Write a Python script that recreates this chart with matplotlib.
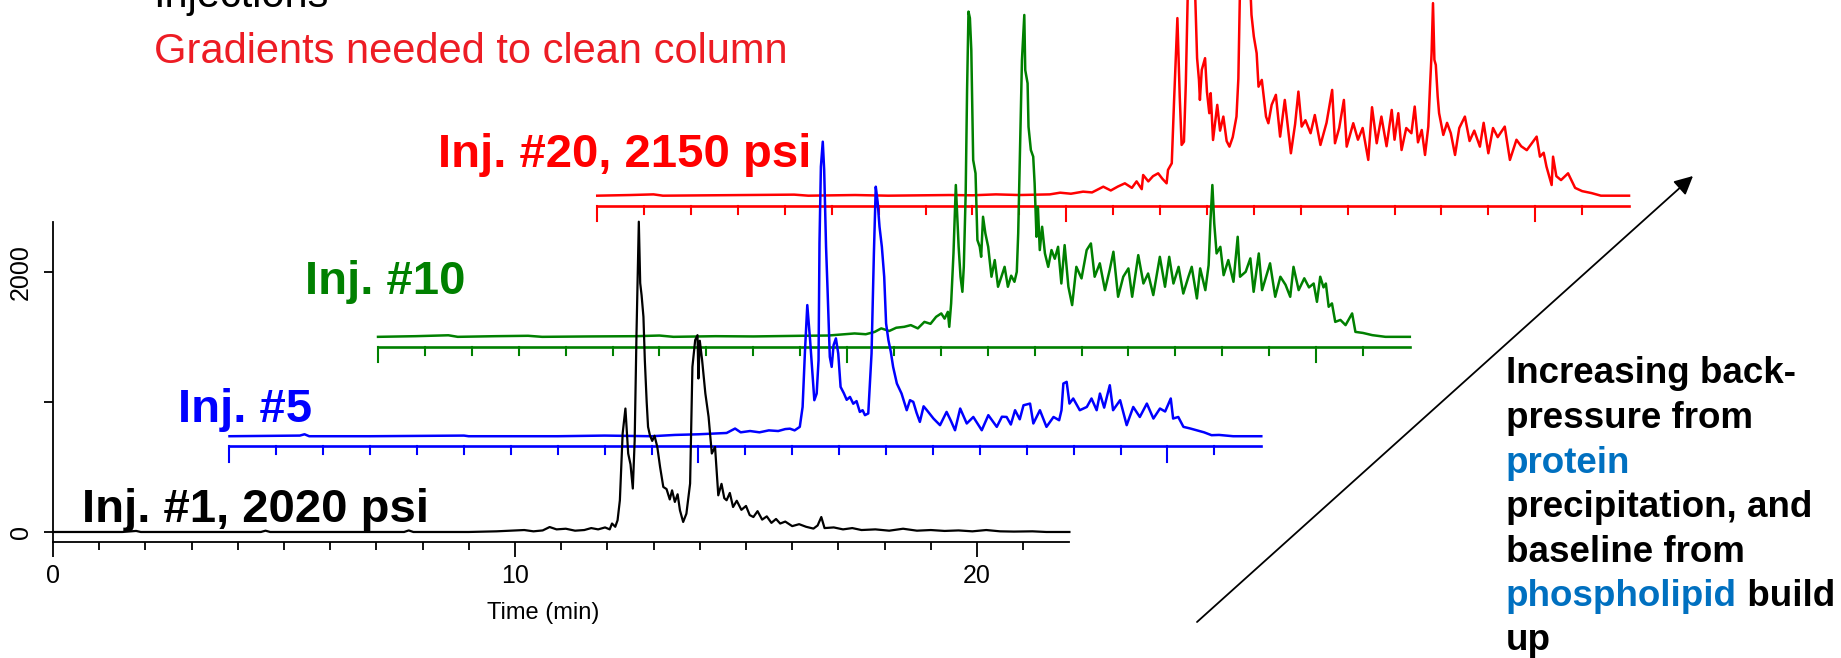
import matplotlib
matplotlib.use("Agg")
import matplotlib.pyplot as plt
import numpy as np

plt.rcParams['font.family'] = ['Liberation Sans', 'DejaVu Sans']

# ---- data (time in min, signal in counts) ----
black_t = [0, 1.5, 1.8, 1.9, 3.0, 4.5, 4.6, 4.7, 6.0, 7.6, 7.7, 7.8, 9.0, 9.6, 10.2, 10.4, 10.6, 10.75,
           10.9, 11.1, 11.3, 11.5, 11.65, 11.8, 11.95, 12.05, 12.1, 12.17, 12.22, 12.27, 12.33, 12.39,
           12.45, 12.50, 12.55, 12.59, 12.63, 12.68, 12.71, 12.74, 12.78, 12.81, 12.85, 12.88, 12.92,
           12.97, 13.02, 13.08, 13.14, 13.21, 13.28, 13.35, 13.40, 13.46, 13.52, 13.57, 13.64, 13.71,
           13.79, 13.84, 13.90, 13.95, 13.97, 14.00, 14.05, 14.12, 14.19, 14.26, 14.33, 14.40, 14.47,
           14.53, 14.58, 14.65, 14.72, 14.80, 14.90, 15.0, 15.08, 15.16, 15.25, 15.35, 15.45, 15.55,
           15.65, 15.74, 15.85, 16.0, 16.15, 16.3, 16.46, 16.55, 16.63, 16.7, 16.9, 17.1, 17.3, 17.5,
           17.8, 18.1, 18.4, 18.7, 19.0, 19.3, 19.6, 19.9, 20.2, 20.5, 20.8, 21.2, 21.5, 22.0]
black_v = [0, 0, 8, 0, 0, 0, 10, 0, 0, 0, 12, 0, 0, 5, 15, 5, 12, 38,
           20, 25, 10, 15, 30, 20, 35, 20, 65, 40, 90, 244, 757, 949,
           603, 520, 334, 700, 1526, 2385, 1913, 1820, 1654, 1321, 1000, 808, 744,
           700, 740, 654, 500, 346, 330, 250, 320, 231, 290, 167, 77, 141,
           372, 1269, 1475, 1513, 1180, 1470, 1321, 1065, 885, 603, 654, 282, 370,
           260, 244, 300, 192, 240, 170, 200, 130, 115, 160, 95, 120, 70,
           100, 65, 80, 45, 60, 40, 26, 50, 115, 30, 35, 20, 30, 15,
           20, 10, 25, 10, 15, 8, 12, 5, 15, 5, 3, 5, 0, 0]

blue_t = [0, 1.5, 1.6, 1.7, 3.0, 5.0, 5.1, 7.0, 8.0, 9.0, 9.5, 10.0, 10.3, 10.6, 10.78, 10.9, 11.1,
          11.3, 11.5, 11.7, 11.85, 11.95, 12.05, 12.16, 12.22, 12.27, 12.32, 12.38, 12.43, 12.47,
          12.52, 12.56, 12.58, 12.61, 12.65, 12.68, 12.72, 12.75, 12.80, 12.84, 12.88, 12.93, 12.98,
          13.03, 13.10, 13.16, 13.23, 13.30, 13.37, 13.44, 13.50, 13.55, 13.62, 13.69, 13.74, 13.78,
          13.82, 13.86, 13.91, 13.96, 14.00, 14.05, 14.10, 14.15, 14.23, 14.33, 14.44, 14.51, 14.58,
          14.65, 14.72, 14.80, 14.87, 15.01, 15.15, 15.29, 15.38, 15.47, 15.58, 15.72, 15.86, 16.04,
          16.18, 16.36, 16.47, 16.57, 16.66, 16.75, 16.85, 16.93, 17.07, 17.14, 17.28, 17.42, 17.57,
          17.69, 17.74, 17.78, 17.85, 17.91, 17.99, 18.13, 18.28, 18.38, 18.49, 18.56, 18.65, 18.77,
          18.84, 18.99, 19.13, 19.27, 19.41, 19.56, 19.70, 19.84, 19.95, 20.07, 20.12, 20.23, 20.34,
          20.48, 20.62, 20.78, 20.94, 21.1, 21.4, 22.0]
blue_v = [0, 5, 15, 0, 0, 5, 0, 0, 5, 0, 10, 15, 20, 25, 59, 30, 40,
          30, 45, 40, 55, 58, 45, 72, 225, 650, 1008, 738, 482, 277,
          328, 585, 1485, 2072, 2264, 2046, 1456, 1148, 610, 533, 700, 752, 636,
          379, 330, 280, 302, 250, 270, 187, 200, 162, 175, 636, 1405, 1918,
          1800, 1610, 1456, 1225, 867, 738, 650, 533, 405, 328, 200, 277, 264,
          180, 110, 230, 200, 136, 85, 187, 120, 46, 213, 98, 148, 46,
          162, 72, 150, 148, 90, 200, 130, 238, 251, 98, 200, 72, 148,
          123, 200, 405, 418, 251, 290, 200, 225, 290, 200, 328, 220, 392,
          200, 277, 85, 225, 148, 251, 136, 213, 190, 290, 136, 148, 72,
          60, 46, 30, 8, 10, 0, 0]

green_t = [0, 0.8, 1.5, 1.7, 2.5, 3.2, 3.5, 4.5, 5.5, 6.0, 6.3, 7.2, 8.0, 9.0, 9.6, 10.16, 10.4,
           10.59, 10.73, 10.9, 11.05, 11.22, 11.36, 11.51, 11.65, 11.78, 11.90, 12.01, 12.08, 12.15,
           12.18, 12.22, 12.27, 12.32, 12.38, 12.42, 12.46, 12.49, 12.53, 12.56, 12.59, 12.62, 12.65,
           12.69, 12.74, 12.78, 12.83, 12.86, 12.90, 12.95, 13.01, 13.08, 13.15, 13.22, 13.29, 13.36,
           13.43, 13.50, 13.57, 13.62, 13.65, 13.68, 13.73, 13.78, 13.80, 13.85, 13.87, 13.92, 13.97,
           14.00, 14.04, 14.07, 14.11, 14.16, 14.22, 14.29, 14.36, 14.43, 14.50, 14.57, 14.64, 14.72,
           14.80, 14.89, 15.0, 15.11, 15.20, 15.28, 15.39, 15.50, 15.60, 15.68, 15.78, 15.89, 16.0,
           16.08, 16.21, 16.32, 16.42, 16.53, 16.67, 16.78, 16.87, 16.96, 17.07, 17.17, 17.28, 17.35,
           17.46, 17.53, 17.64, 17.71, 17.75, 17.79, 17.83, 17.88, 17.96, 18.03, 18.13, 18.24, 18.33,
           18.38, 18.50, 18.60, 18.67, 18.78, 18.85, 19.02, 19.13, 19.24, 19.35, 19.45, 19.52, 19.63,
           19.75, 19.85, 19.95, 20.02, 20.09, 20.16, 20.21, 20.27, 20.34, 20.41, 20.52, 20.63, 20.77,
           20.84, 21.0, 21.2, 21.48, 22.0]
green_v = [0, 5, 12, 0, 5, 8, 0, 3, 5, 10, 0, 5, 3, 8, 10, 26, 20,
           38, 65, 45, 70, 77, 90, 65, 115, 100, 154, 180, 140, 192,
           77, 257, 641, 1167, 692, 462, 346, 538, 1103, 1900, 2500, 2450, 2205,
           1359, 1257, 744, 692, 615, 923, 795, 692, 462, 590, 385, 460, 538,
           385, 470, 423, 500, 795, 1308, 2128, 2474, 2051, 1949, 1615, 1436, 1385,
           1180, 769, 1000, 667, 846, 641, 538, 667, 600, 692, 410, 705, 385,
           244, 538, 449, 667, 718, 462, 565, 359, 513, 654, 308, 462, 526,
           308, 628, 410, 487, 321, 615, 385, 615, 410, 538, 333, 462, 538,
           295, 526, 359, 551, 897, 1167, 872, 641, 692, 474, 590, 423, 769,
           462, 500, 603, 346, 641, 359, 565, 308, 462, 400, 308, 538, 359,
           450, 380, 410, 269, 462, 380, 410, 231, 257, 115, 130, 90, 180,
           38, 30, 13, 0, 0]

red_t = [0, 0.7, 1.2, 1.4, 2.5, 3.5, 4.2, 4.5, 5.5, 6.2, 7.5, 8.0, 8.5, 9.0, 9.65, 9.87, 10.1,
         10.36, 10.55, 10.79, 10.95, 11.1, 11.25, 11.4, 11.5, 11.61, 11.64, 11.75, 11.85, 11.96,
         12.05, 12.14, 12.17, 12.25, 12.30, 12.37, 12.42, 12.46, 12.51, 12.55, 12.60, 12.66, 12.72,
         12.79, 12.83, 12.85, 12.89, 12.96, 13.0, 13.05, 13.08, 13.13, 13.22, 13.28, 13.35, 13.42,
         13.48, 13.55, 13.63, 13.67, 13.72, 13.80, 13.88, 13.95, 14.00, 14.06, 14.10, 14.17, 14.26,
         14.31, 14.38, 14.47, 14.56, 14.66, 14.79, 14.88, 14.95, 15.02, 15.10, 15.21, 15.30, 15.42,
         15.55, 15.67, 15.73, 15.82, 15.92, 15.98, 16.12, 16.22, 16.32, 16.44, 16.52, 16.62, 16.72,
         16.83, 16.94, 17.0, 17.08, 17.15, 17.25, 17.36, 17.43, 17.5, 17.58, 17.65, 17.72, 17.76,
         17.79, 17.82, 17.85, 17.88, 17.92, 17.95, 18.04, 18.12, 18.2, 18.29, 18.38, 18.50, 18.6,
         18.7, 18.82, 18.9, 19.0, 19.1, 19.2, 19.35, 19.46, 19.6, 19.7, 19.82, 19.92, 20.03, 20.1,
         20.18, 20.24, 20.35, 20.38, 20.45, 20.55, 20.70, 20.85, 21.0, 21.2, 21.4, 22.0]
red_v = [0, 5, 10, 0, 3, 5, 8, 0, 5, 0, 5, 3, 10, 5, 10, 23, 15,
         31, 25, 69, 40, 70, 95, 60, 110, 50, 159, 110, 150, 172,
         130, 95, 198, 249, 736, 1365, 762, 390, 415, 865, 1700, 2400, 1900,
         1057, 890, 736, 967, 1057, 800, 634, 788, 428, 698, 500, 608, 420,
         377, 450, 608, 900, 1900, 2450, 2000, 1390, 1223, 1095, 838, 890, 608,
         557, 698, 775, 454, 736, 326, 550, 800, 531, 580, 480, 620, 390,
         560, 813, 403, 520, 736, 377, 557, 430, 520, 275, 680, 403, 608,
         380, 659, 430, 634, 351, 520, 480, 685, 410, 505, 313, 531, 865,
         1095, 1480, 1044, 1005, 762, 634, 467, 560, 480, 313, 520, 608, 420,
         500, 377, 560, 326, 520, 450, 531, 275, 430, 380, 350, 400, 454, 300,
         330, 223, 82, 300, 150, 120, 172, 60, 35, 20, 0, 0]

x_ticks = [0, 10, 20]
y_ticks = [0, 1000, 2000]
y_tick_labels = ["0", "", "2000"]

# ---- layout (pixels of the 1841 x 658 canvas) ----
W, H = 1841, 658
X_END = 22.0
Y_LO, Y_HI = -77, 2385
TICK_MIN, TICK_MAJ = 62, 119          # overlay tick lengths, data units
XS = 46.9 / 46.2                      # overlay time scale vs. main axis

fig = plt.figure(figsize=(W / 100, H / 100), dpi=100)
ax = fig.add_axes([53 / W, (H - 542) / H, X_END * 46.2 / W, 320.3 / H])
ax.set_xlim(0, X_END)
ax.set_ylim(Y_LO, Y_HI)

for s in ("top", "right"):
    ax.spines[s].set_visible(False)
for s in ("left", "bottom"):
    ax.spines[s].set_linewidth(1.3)

ax.set_xticks(x_ticks)
ax.set_xticks(np.arange(0, 22), minor=True)
ax.set_yticks(y_ticks)
ax.set_yticklabels(y_tick_labels, rotation=90, va="center")
ax.tick_params(axis="x", which="major", length=11, width=1.3, labelsize=18, pad=5)
ax.tick_params(axis="x", which="minor", length=5.8, width=1.3)
ax.tick_params(axis="y", length=6.5, width=1.3, labelsize=18, pad=8)
ax.set_xlabel("Time (min)", fontsize=17)
ax.xaxis.set_label_coords((543 - 53) / (X_END * 46.2), -0.222)
ax.xaxis.label.set_va("center")


def overlay(t, v, dx, dy, color):
    t = np.asarray(t, dtype=float)
    v = np.asarray(v, dtype=float)
    ax.plot(dx + XS * t, dy + v, color=color, lw=1.8, clip_on=False, zorder=3)
    base = dy + Y_LO
    ax.plot([dx, dx + XS * X_END], [base, base], color=color, lw=1.9, clip_on=False, zorder=3)
    for k in range(22):
        ln = TICK_MAJ if k % 10 == 0 else TICK_MIN
        ax.plot([dx + XS * k] * 2, [base, base - ln], color=color, lw=1.5,
                clip_on=False, zorder=3)


overlay(red_t, red_v, 11.78, 2585, "#ff0000")
overlay(green_t, green_v, 7.035, 1500, "#008000")
overlay(blue_t, blue_v, 3.82, 736, "#0000ff")
ax.plot(black_t, black_v, color="black", lw=1.6, clip_on=False, zorder=4)


def ftext(x, y, s, **kw):
    return fig.text(x / W, 1 - y / H, s, va="baseline", ha="left", zorder=10, **kw)


ftext(153, 7, "Injections", fontsize=30, color="black")
ftext(154, 63, "Gradients needed to clean column", fontsize=30, color="#ed1c24")
ftext(438, 167, "Inj. #20, 2150 psi", fontsize=34, fontweight="bold", color="#ff0000")
ftext(305, 294, "Inj. #10", fontsize=34, fontweight="bold", color="#008000")
ftext(178, 422, "Inj. #5", fontsize=34, fontweight="bold", color="#0000ff")
ftext(82, 522, "Inj. #1, 2020 psi", fontsize=34, fontweight="bold", color="black")

note_kw = dict(fontsize=26.5, fontweight="bold")
hi = "#0070c0"
ftext(1506, 383, "Increasing back-", color="black", **note_kw)
ftext(1506, 428, "pressure from", color="black", **note_kw)
ftext(1506, 473, "protein", color=hi, **note_kw)
ftext(1506, 517, "precipitation, and", color="black", **note_kw)
ftext(1506, 562, "baseline from", color="black", **note_kw)
p = ftext(1506, 606, "phospholipid", color=hi, **note_kw)
ax.annotate(" build", xy=(1, 1 - 606 / H), xycoords=(p, "figure fraction"),
            va="baseline", ha="left", color="black", annotation_clip=False, **note_kw)
ftext(1506, 650, "up", color="black", **note_kw)

ax.annotate("", xy=(1693 / W, 1 - 176 / H), xytext=(1197 / W, 1 - 622 / H),
            xycoords="figure fraction", textcoords="figure fraction",
            arrowprops=dict(arrowstyle="-|>", color="black", lw=1.3, mutation_scale=28,
                            shrinkA=0, shrinkB=0), annotation_clip=False)

fig.savefig("out.png", dpi=100)
